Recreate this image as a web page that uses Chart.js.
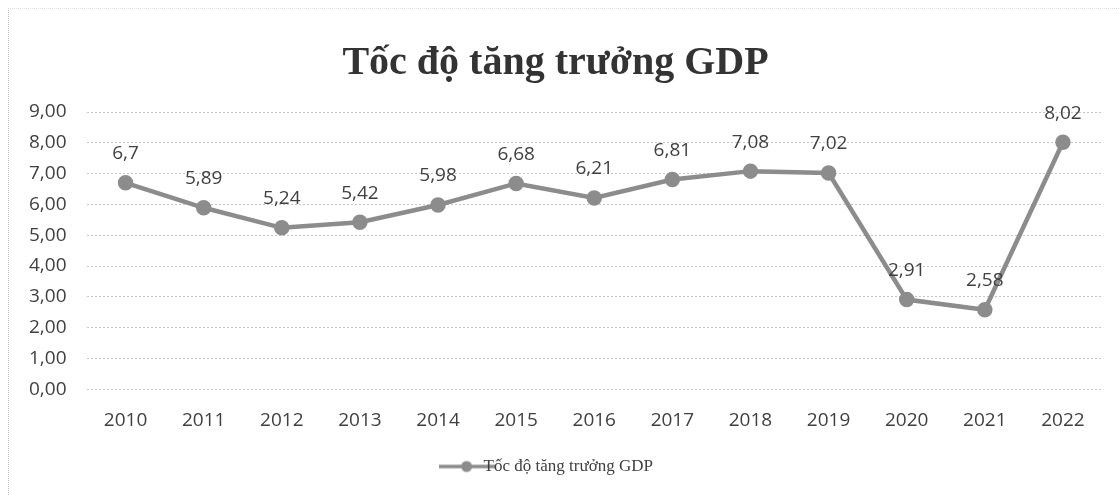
<!DOCTYPE html>
<html><head><meta charset="utf-8">
<script src="https://cdn.jsdelivr.net/npm/chart.js@4"></script>
<style>
html,body{margin:0;padding:0;background:#fff;}
#wrap{position:absolute;left:8px;top:8px;width:1111px;height:487px;border-left:1px dotted #bbb;border-top:1px dotted #ddd;box-sizing:border-box;}
canvas{display:block;}
</style></head><body>
<div id="wrap"><canvas id="c"></canvas></div>
<script>
const categories = ['2010','2011','2012','2013','2014','2015','2016','2017','2018','2019','2020','2021','2022'];
const gdpGrowth = [6.7, 5.89, 5.24, 5.42, 5.98, 6.68, 6.21, 6.81, 7.08, 7.02, 2.91, 2.58, 8.02];
const seriesName = 'Tốc độ tăng trưởng GDP';
const chartTitle = 'Tốc độ tăng trưởng GDP';

const lineColor = '#8c8c8c';
const textColor = '#404040';

function fmt(v){ return String(v).replace('.', ','); }

// legend marker image
const mk = document.createElement('canvas');
mk.width = 56; mk.height = 14;
(function(){
  const g = mk.getContext('2d');
  g.strokeStyle = lineColor; g.lineWidth = 3.5;
  g.beginPath(); g.moveTo(0,7); g.lineTo(56,7); g.stroke();
  g.fillStyle = lineColor; g.beginPath(); g.arc(28,7,5.5,0,Math.PI*2); g.fill();
})();

const dataLabels = {
  id: 'dataLabels',
  afterDatasetsDraw(chart){
    const ctx = chart.ctx;
    const meta = chart.getDatasetMeta(0);
    ctx.save();
    ctx.font = '19px "Open Sans", sans-serif';
    ctx.fillStyle = textColor;
    ctx.textAlign = 'center';
    ctx.textBaseline = 'middle';
    meta.data.forEach((pt, i) => {
      ctx.fillText(fmt(gdpGrowth[i]), pt.x, pt.y - 29);
    });
    ctx.restore();
  }
};

new Chart(document.getElementById('c'), {
  type: 'line',
  data: {
    labels: categories,
    datasets: [{
      label: seriesName,
      data: gdpGrowth,
      borderColor: lineColor,
      backgroundColor: lineColor,
      borderWidth: 4.5,
      pointRadius: 5.5,
      pointBackgroundColor: lineColor,
      pointBorderColor: lineColor,
      tension: 0
    }]
  },
  options: {
    responsive: true,
    maintainAspectRatio: false,
    animation: false,
    layout: { padding: { left: 0, right: 17, top: 14, bottom: 10 } },
    scales: {
      x: {
        offset: true,
        grid: { display: false, drawTicks: false },
        border: { display: false },
        ticks: { color: textColor, font: { family: '"Open Sans", sans-serif', size: 19 }, padding: 20 }
      },
      y: {
        min: 0, max: 9,
        ticks: { stepSize: 1, color: textColor, font: { family: '"Open Sans", sans-serif', size: 19 }, padding: 20,
          callback: v => v.toFixed(2).replace('.', ',') },
        grid: { color: '#c4c4c4', lineWidth: 1, drawTicks: false },
        border: { display: false, dash: [2,2] }
      }
    },
    plugins: {
      title: {
        display: true, text: chartTitle, color: '#333',
        font: { family: '"Liberation Serif", "DejaVu Serif", serif', size: 40, weight: 'bold' },
        padding: { top: 17, bottom: 24 }
      },
      legend: {
        position: 'bottom',
        labels: {
          color: textColor,
          font: { family: '"Liberation Serif", serif', size: 17 },
          usePointStyle: true,
          padding: 6,
          generateLabels(chart){
            return [{ text: seriesName, pointStyle: mk, fontColor: textColor, strokeStyle: lineColor, fillStyle: lineColor, datasetIndex: 0, hidden: false }];
          }
        }
      },
      tooltip: { enabled: false }
    }
  },
  plugins: [dataLabels]
});
</script>
</body></html>
